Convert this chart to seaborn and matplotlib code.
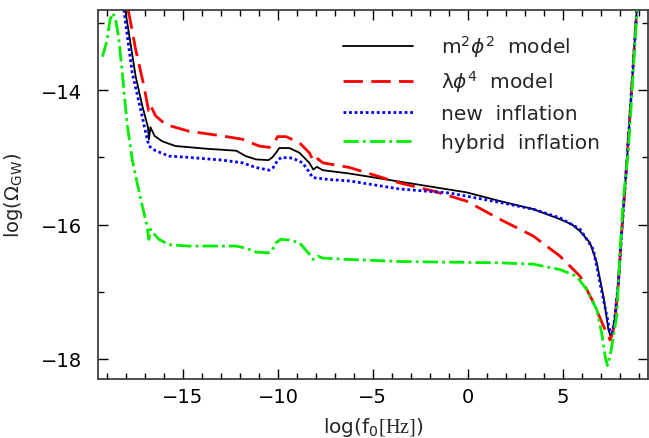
import numpy as np
import pandas as pd
import matplotlib
matplotlib.use("Agg")
import matplotlib.pyplot as plt
import seaborn as sns
from matplotlib.ticker import MultipleLocator

# ---- data ----
m2_x = [-18.05, -17.5, -17.15, -16.85, -16.80, -16.72, -16.5, -16.1, -15.4, -13.8, -12.2, -11.7,
        -11.15, -10.5, -10.3, -10.1, -9.93, -9.4, -8.87, -8.35, -8.14, -7.95, -7.64, -6.23, -3.6,
        -0.07, 1.7, 3.45, 4.86, 5.5, 5.92, 6.44, 6.8, 7.15, 7.41, 7.54, 7.65, 7.77, 7.94, 8.11, 8.37, 8.91]
m2_y = [-12.8, -13.79, -14.23, -14.55, -14.73, -14.55, -14.68, -14.76, -14.83, -14.87, -14.9, -14.98,
        -15.03, -15.04, -15.0, -14.93, -14.86, -14.86, -14.93, -15.08, -15.18, -15.14, -15.19, -15.24, -15.36,
        -15.52, -15.65, -15.77, -15.92, -16.0, -16.1, -16.27, -16.57, -17.07, -17.56, -17.68, -17.55, -17.36,
        -16.86, -16.12, -15.13, -12.79]

l4_x = [-17.89, -17.5, -17.06, -16.82, -16.72, -16.45, -15.92, -14.69, -12.93, -11.87, -10.99, -10.45,
        -10.2, -10.02, -9.58, -8.87, -8.35, -8.1, -7.9, -7.64, -6.23, -3.59, -1.83, -0.07, 1.69, 3.45,
        4.86, 5.92, 6.62, 7.15, 7.5, 7.65, 7.77, 7.94, 8.11, 8.37, 8.91]
l4_y = [-12.8, -13.39, -13.94, -14.3, -14.22, -14.38, -14.51, -14.61, -14.68, -14.73, -14.83, -14.85,
        -14.78, -14.69, -14.69, -14.78, -14.93, -15.07, -15.02, -15.08, -15.15, -15.38, -15.5, -15.65, -15.92,
        -16.17, -16.47, -16.77, -17.16, -17.51, -17.72, -17.6, -17.4, -16.86, -16.12, -15.13, -12.79]

new_x = [-18.12, -17.68, -17.24, -16.97, -16.8, -16.45, -15.74, -14.69, -12.93, -11.87, -11.16, -10.46,
         -10.25, -10.1, -9.84, -9.23, -8.7, -8.4, -8.17, -7.29, -6.23, -3.59, -0.95, 1.69, 3.45, 4.86,
         5.92, 6.62, 6.97, 7.33, 7.5, 7.6, 7.72, 7.94, 8.11, 8.37, 8.91]
new_y = [-12.8, -13.74, -14.28, -14.63, -14.83, -14.9, -14.98, -15.0, -15.04, -15.08, -15.15, -15.19,
         -15.15, -15.08, -15.0, -15.01, -15.08, -15.2, -15.3, -15.33, -15.35, -15.47, -15.53, -15.67, -15.77,
         -15.9, -16.07, -16.37, -16.87, -17.36, -17.6, -17.62, -17.45, -16.86, -16.12, -15.13, -12.79]

hyb_x = [-19.25, -19.0, -18.85, -18.7, -18.55, -18.4, -18.2, -17.95, -17.68, -17.42, -17.15, -16.9,
         -16.8, -16.72, -16.5, -16.27, -15.74, -14.7, -12.2, -11.7, -11.15, -10.5, -10.3, -10.1, -9.85,
         -9.4, -8.87, -8.35, -8.14, -7.9, -7.64, -6.2, -3.6, 1.7, 3.45, 4.86, 5.74, 6.27, 6.8, 7.06,
         7.24, 7.36, 7.5, 7.68, 7.85, 8.03, 8.2, 8.47, 8.93]
hyb_y = [-13.5, -13.25, -12.95, -12.85, -12.95, -13.2, -13.75, -14.5, -15.03, -15.38, -15.72, -16.02,
         -16.22, -16.07, -16.15, -16.22, -16.3, -16.32, -16.32, -16.35, -16.41, -16.42, -16.38, -16.27, -16.22,
         -16.23, -16.27, -16.44, -16.52, -16.47, -16.5, -16.52, -16.55, -16.57, -16.59, -16.67, -16.77, -16.97,
         -17.27, -17.62, -17.96, -18.1, -17.96, -17.66, -17.36, -16.37, -15.62, -14.88, -12.75]

labels = [r'm$^{\mathsf{2}}\phi^{\mathsf{2}}$  model', r'λ$\phi^{\mathsf{4}}$  model',
          'new  inflation', 'hybrid  inflation']

# ---- style ----
sns.set_style("ticks")
plt.rcParams['font.family'] = ['DejaVu Sans']
plt.rcParams['mathtext.fontset'] = 'custom'
plt.rcParams['mathtext.rm'] = 'DejaVu Sans'
plt.rcParams['mathtext.sf'] = 'DejaVu Sans'
plt.rcParams['mathtext.it'] = 'DejaVu Sans:italic'
plt.rcParams['mathtext.cal'] = 'Liberation Serif'

fig = plt.figure(figsize=(6.49, 4.39), dpi=100)
ax = fig.add_axes([0.1505, 0.1344, 0.848, 0.8412])

series = [
    (m2_x, m2_y, 'black', '-', 1.3),
    (l4_x, l4_y, '#ff0000', (0, (7, 3)), 2.0),
    (new_x, new_y, '#0000ff', (0, (1, 1)), 2.0),
    (hyb_x, hyb_y, '#00ee00', (0, (5.5, 1.5, 1, 1.5)), 2.0),
]
handles = []
for (xs, ys, c, ls, lw), lab in zip(series, labels):
    df = pd.DataFrame({'x': xs, 'y': ys})
    sns.lineplot(data=df, x='x', y='y', ax=ax, color=c, linestyle=ls, linewidth=lw,
                 sort=False, estimator=None)
    handles.append(ax.lines[-1])

ax.set_xlim(-19.5, 9.5)
ax.set_ylim(-18.3, -12.8)
ax.xaxis.set_major_locator(MultipleLocator(5))
ax.xaxis.set_minor_locator(MultipleLocator(1))
ax.yaxis.set_major_locator(MultipleLocator(2))
ax.yaxis.set_minor_locator(MultipleLocator(1))
ax.tick_params(which='both', direction='in', top=True, right=True, colors='black', labelsize=14)
ax.tick_params(which='major', length=7, width=1.0)
ax.tick_params(which='minor', length=4, width=1.0)
ax.tick_params(axis='x', pad=6)
ax.tick_params(axis='y', pad=11)
for sp in ax.spines.values():
    sp.set_color('#404040')
    sp.set_linewidth(1.3)

ax.set_xlabel(r'log(f$_0$$\mathcal{[Hz]}$)', fontsize=14.5, labelpad=6)
ax.set_ylabel(r'log(Ω$_{\mathrm{GW}}$)', fontsize=14, labelpad=12)

ax.legend(handles, labels, loc='upper left', bbox_to_anchor=(343 / 649, 1 - 34 / 439),
          bbox_transform=fig.transFigure, frameon=False, borderpad=0, borderaxespad=0,
          handlelength=3.48, handletextpad=1.39, labelspacing=0.48, fontsize=14.5)

fig.savefig('out.png', dpi=100)
